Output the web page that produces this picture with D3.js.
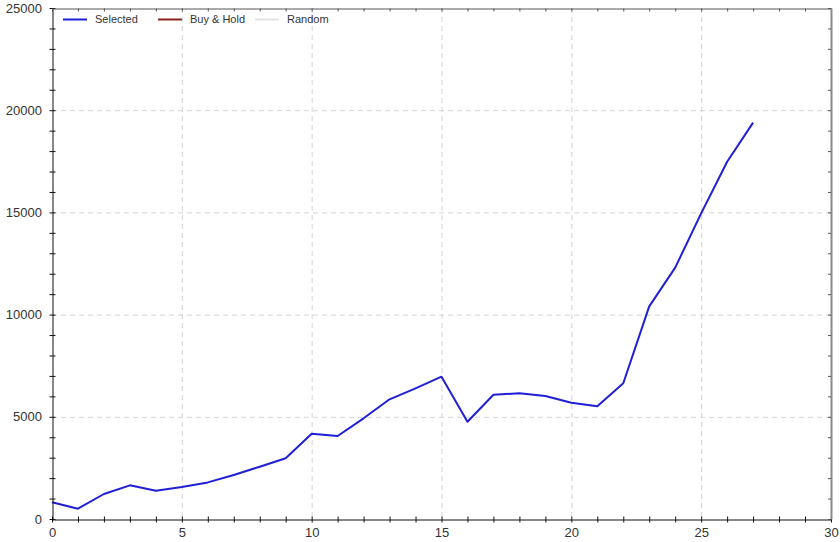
<!DOCTYPE html>
<html>
<head>
<meta charset="utf-8">
<script src="https://cdn.jsdelivr.net/npm/d3@7"></script>
<style>
  html, body { margin: 0; padding: 0; background: #fff; }
  svg { display: block; font-family: "Liberation Sans", Arial, sans-serif; }
</style>
</head>
<body>
<svg id="chart" width="840" height="542"></svg>
<script>
// ---- data ----
const periods = d3.range(0, 28);
const selectedValues = [817, 504, 1223, 1647, 1386, 1566, 1790, 2153, 2560, 2970,
  4170, 4060, 4926, 5856, 6394, 6962, 4760, 6081, 6150, 6018,
  5690, 5513, 6639, 10400, 12300, 14950, 17480, 19390];
const buyHoldValues = [];
const randomValues = [];
const seriesNames = ["Selected", "Buy & Hold", "Random"];
const seriesColors = ["#1f1fd6", "#8b2020", "#e2e2e2"];
const xTickValues = [0, 5, 10, 15, 20, 25, 30];
const yTickValues = [0, 5000, 10000, 15000, 20000, 25000];

(function () {
// ---- layout ----
const svg = d3.select("#chart");
const mLeft = 52, mRight = 831, mTop = 8, mBottom = 519;

const x = d3.scaleLinear().domain([0, 30]).range([mLeft, mRight]);
const y = d3.scaleLinear().domain([0, 25000]).range([mBottom, mTop]);

// grid
const grid = svg.append("g");
grid.selectAll("line.vg").data(xTickValues.filter(v => v > 0 && v < 30)).join("line")
  .attr("class", "vg")
  .attr("x1", d => x(d) + 0.5).attr("x2", d => x(d) + 0.5)
  .attr("y1", mTop).attr("y2", mBottom)
  .attr("stroke", "#d4d4d4").attr("stroke-dasharray", "5,4");
grid.selectAll("line.hg").data(yTickValues.filter(v => v > 0 && v < 25000)).join("line")
  .attr("class", "hg")
  .attr("y1", d => y(d) + 0.5).attr("y2", d => y(d) + 0.5)
  .attr("x1", mLeft).attr("x2", mRight)
  .attr("stroke", "#d4d4d4").attr("stroke-dasharray", "5,4");

// series
const line = d3.line().x((d, i) => x(periods[i])).y(d => y(d));
[selectedValues, buyHoldValues, randomValues].forEach((vals, k) => {
  if (!vals.length) return;
  svg.append("path").datum(vals)
    .attr("d", line)
    .attr("fill", "none")
    .attr("stroke", seriesColors[k])
    .attr("stroke-width", 2)
    .attr("stroke-linejoin", "round");
});

// axes
const minorX = d3.range(0, 31);
const minorY = d3.range(0, 25001, 1000);

// bottom axis
const gb = svg.append("g").attr("transform", `translate(0,${mBottom + 0.5})`)
  .call(d3.axisBottom(x).tickValues(minorX).tickSize(0).tickFormat(""));
gb.select(".domain").attr("stroke", "#111");
gb.selectAll(".tick line").attr("y1", -3).attr("y2", 3).attr("stroke", "#111");
const gbl = svg.append("g").attr("transform", `translate(0,${mBottom})`)
  .call(d3.axisBottom(x).tickValues(xTickValues).tickSize(0).tickPadding(9));
gbl.select(".domain").remove();
gbl.selectAll(".tick text").attr("font-size", 13).attr("fill", "#333")
  .attr("font-family", "'Liberation Sans', Arial, sans-serif");

// left axis
const gl = svg.append("g").attr("transform", `translate(${mLeft + 0.5},0)`)
  .call(d3.axisLeft(y).tickValues(minorY).tickSize(0).tickFormat(""));
gl.select(".domain").attr("stroke", "#111");
gl.selectAll(".tick line").attr("x1", -3).attr("x2", 3).attr("stroke", "#111");
const gll = svg.append("g").attr("transform", `translate(${mLeft},0)`)
  .call(d3.axisLeft(y).tickValues(yTickValues).tickSize(0).tickPadding(10).tickFormat(d3.format("d")));
gll.select(".domain").remove();
gll.selectAll(".tick text").attr("font-size", 13).attr("fill", "#333")
  .attr("font-family", "'Liberation Sans', Arial, sans-serif");

// top axis
const gt = svg.append("g").attr("transform", `translate(0,${mTop + 0.5})`)
  .call(d3.axisTop(x).tickValues(minorX).tickSize(0).tickFormat(""));
gt.select(".domain").attr("stroke", "#555");
gt.selectAll(".tick line").attr("y1", 0).attr("y2", 3).attr("stroke", "#555");

// right axis
const gr = svg.append("g").attr("transform", `translate(${mRight},0)`)
  .call(d3.axisRight(y).tickValues(minorY).tickSize(0).tickFormat(""));
gr.select(".domain").attr("stroke", "#8a8a8a").attr("stroke-width", 2);
gr.selectAll(".tick line").attr("x1", -3).attr("x2", 0).attr("stroke", "#555");

// legend
const legendX = [63, 158, 255];
const legend = svg.append("g");
seriesNames.forEach((name, i) => {
  const g = legend.append("g").attr("transform", `translate(${legendX[i]},19)`);
  g.append("line").attr("x1", 0).attr("x2", 24).attr("y1", 0.5).attr("y2", 0.5)
    .attr("stroke", seriesColors[i]).attr("stroke-width", 2);
  g.append("text").attr("x", 32).attr("y", 4).attr("font-size", 11).attr("fill", "#333")
    .text(name);
});
})();
</script>
</body>
</html>
